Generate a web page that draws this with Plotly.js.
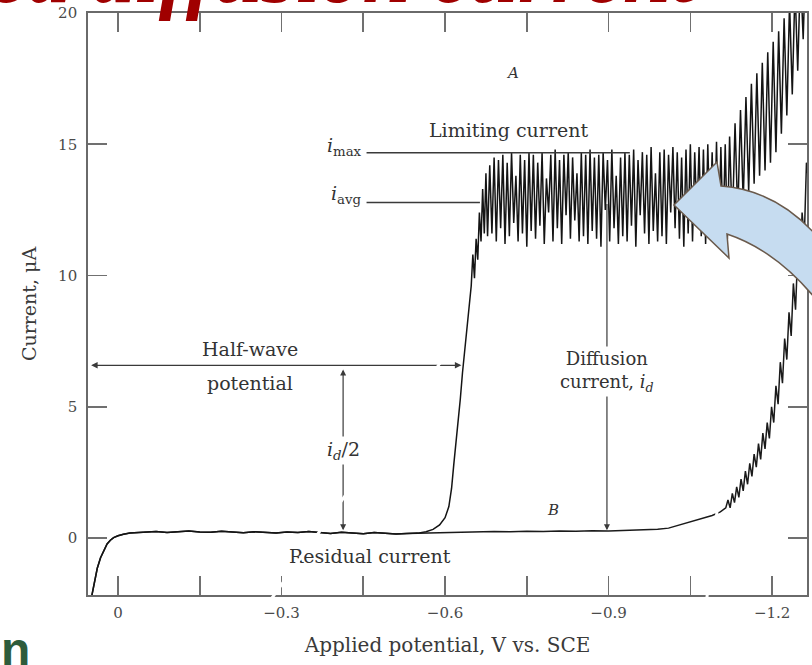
<!DOCTYPE html>
<html>
<head>
<meta charset="utf-8">
<script src="https://cdn.plot.ly/plotly-3.0.1.min.js"></script>
<style>html,body{margin:0;padding:0;background:#fff;}#chart{width:812px;height:665px;}</style>
</head>
<body>
<div id="chart"></div>
<script>
// ---- Curve B: residual current (applied potential V vs SCE, current µA)
const resV = [0.050, 0.044, 0.038, 0.032, 0.026, 0.020, 0.014, 0.008, 0.000,
  -0.010, -0.022, -0.035, -0.050,
  -0.070, -0.090, -0.110, -0.130, -0.150, -0.170, -0.190, -0.210, -0.230, -0.250,
  -0.270, -0.290, -0.310, -0.330, -0.350, -0.370, -0.390, -0.410, -0.430, -0.450,
  -0.470, -0.490, -0.510, -0.530, -0.550,
  -0.570, -0.600, -0.630, -0.660, -0.690, -0.720, -0.750, -0.780, -0.810, -0.840,
  -0.870, -0.900, -0.930, -0.960, -0.990, -1.010, -1.030, -1.050, -1.070, -1.090,
  -1.105, -1.115,
  -1.119, -1.123, -1.127, -1.131, -1.135, -1.139, -1.143, -1.147, -1.151, -1.155,
  -1.159, -1.163, -1.167, -1.171, -1.175, -1.179, -1.183, -1.187, -1.191, -1.195,
  -1.199, -1.203, -1.207, -1.211, -1.215, -1.219, -1.223, -1.227, -1.231, -1.235,
  -1.239, -1.243, -1.247, -1.251, -1.255, -1.259, -1.263, -1.267, -1.271];
const resI = [-2.4, -1.7, -1.15, -0.75, -0.45, -0.22, -0.08, 0.02, 0.09,
  0.15, 0.19, 0.21, 0.22,
  0.25, 0.21, 0.24, 0.27, 0.23, 0.22, 0.26, 0.22, 0.20, 0.24,
  0.22, 0.19, 0.23, 0.21, 0.25, 0.21, 0.18, 0.22, 0.20, 0.17,
  0.21, 0.19, 0.16, 0.18, 0.19,
  0.20, 0.22, 0.24, 0.23, 0.25, 0.24, 0.26, 0.25, 0.27, 0.26,
  0.28, 0.27, 0.29, 0.30, 0.34, 0.38, 0.50, 0.62, 0.75, 0.86,
  1.00, 1.15,
  1.45, 1.15, 1.70, 1.35, 1.95, 1.55, 2.25, 1.80, 2.55, 2.05,
  2.85, 2.35, 3.20, 2.70, 3.60, 3.00, 4.00, 3.40, 4.40, 3.80,
  5.00, 4.40, 5.80, 5.10, 6.70, 5.90, 7.60, 6.80, 8.60, 7.70,
  9.70, 8.70, 10.90, 9.90, 12.40, 11.40, 14.30, 13.60, 16.20];
// number of residual points shared by curve A before the wave departs
const sharedCount = 38;

// ---- Curve A: polarographic wave (after it leaves the residual line)
const waveV = [-0.565, -0.578, -0.590, -0.600, -0.607, -0.612, -0.616, -0.620, -0.624, -0.628,
  -0.632, -0.636, -0.640, -0.644, -0.648, -0.651, -0.654, -0.657, -0.660, -0.663,
  -0.666, -0.669, -0.672, -0.675, -0.678,
  -0.682, -0.686, -0.690, -0.694, -0.698, -0.702, -0.706, -0.710, -0.714, -0.718,
  -0.722, -0.726, -0.730, -0.734, -0.738, -0.742, -0.746, -0.750, -0.754, -0.758,
  -0.762, -0.766, -0.770, -0.774, -0.778, -0.782, -0.786, -0.790, -0.794, -0.798,
  -0.802, -0.806, -0.810, -0.814, -0.818, -0.822, -0.826, -0.830, -0.834, -0.838,
  -0.842, -0.846, -0.850, -0.854, -0.858, -0.862, -0.866, -0.870, -0.874, -0.878,
  -0.882, -0.886, -0.890, -0.894, -0.898, -0.902, -0.906, -0.910, -0.914, -0.918,
  -0.922, -0.926, -0.930, -0.934, -0.938, -0.942, -0.946, -0.950, -0.954, -0.958,
  -0.962, -0.966, -0.970, -0.974, -0.978, -0.982, -0.986, -0.990, -0.994, -0.998,
  -1.002, -1.006, -1.010, -1.014, -1.018, -1.022, -1.026, -1.030, -1.034, -1.038,
  -1.042, -1.046, -1.050, -1.054, -1.058, -1.062, -1.066, -1.070, -1.074, -1.078,
  -1.082, -1.086, -1.090, -1.094, -1.098, -1.102, -1.106, -1.110, -1.114, -1.118,
  -1.122, -1.127, -1.132, -1.137, -1.142, -1.147, -1.152, -1.157, -1.162, -1.167,
  -1.172, -1.177, -1.182, -1.187, -1.192, -1.197, -1.202, -1.207, -1.212, -1.217,
  -1.222, -1.227, -1.232, -1.237, -1.242, -1.247, -1.252, -1.257, -1.262];
const waveI = [0.24, 0.33, 0.50, 0.78, 1.2, 1.9, 2.8, 3.6, 4.4, 5.3,
  6.3, 7.2, 8.0, 8.8, 9.6, 10.8, 9.9, 11.4, 10.6, 12.4,
  11.3, 13.3, 11.6, 13.9, 11.5,
  14.2, 11.6, 14.5, 11.3, 14.4, 11.8, 14.6, 11.2, 14.3, 11.5,
  14.7, 12.0, 13.8, 11.3, 14.6, 11.6, 14.4, 11.1, 14.7, 11.7,
  14.6, 11.4, 14.3, 11.9, 14.7, 11.2, 13.7, 12.4, 14.6, 11.3,
  14.8, 11.8, 14.4, 11.2, 14.6, 12.3, 14.7, 11.4, 14.5, 12.1,
  13.9, 11.3, 14.7, 11.5, 14.6, 11.2, 14.8, 11.7, 14.5, 11.4,
  14.6, 11.1, 14.7, 12.5, 14.4, 11.3, 14.8, 11.8, 13.8, 11.2,
  14.5, 11.5, 14.7, 11.3, 14.6, 11.9, 14.8, 11.1, 14.4, 12.3,
  14.7, 11.6, 14.6, 11.2, 14.9, 11.7, 13.9, 11.3, 14.7, 11.5,
  14.8, 11.2, 14.6, 12.4, 14.9, 11.8, 14.7, 11.4, 14.5, 11.1,
  14.8, 11.6, 15.0, 11.3, 14.7, 12.2, 14.9, 11.5, 14.8, 11.2,
  15.0, 11.7, 14.7, 11.4, 15.1, 11.3, 14.9, 11.6, 15.0, 11.4,
  15.3, 11.9, 15.8, 12.3, 16.3, 12.8, 16.8, 13.2, 17.3, 13.5,
  17.7, 13.8, 18.1, 14.0, 18.5, 14.3, 18.9, 14.7, 19.3, 15.4,
  19.8, 16.1, 20.4, 16.9, 21.0, 17.8, 21.6, 19.0, 22.5];

// ---- Axis ticks
const xTickVals = [0, -0.15, -0.3, -0.45, -0.6, -0.75, -0.9, -1.05, -1.2];
const xTickText = ['0', '', '\u22120.3', '', '\u22120.6', '', '\u22120.9', '', '\u22121.2'];
const yTickVals = [0, 5, 10, 15, 20];
const yTickText = ['0', '5', '10', '15', '20'];

// ---- Reference levels
const iMax = 14.68, iAvg = 12.78, halfI = 6.58, halfV = -0.630;
const idHalfV = -0.413, diffV = -0.897, resLevel = 0.30;

const curveA_V = resV.slice(0, sharedCount).concat(waveV);
const curveA_I = resI.slice(0, sharedCount).concat(waveI);

const serif = 'DejaVu Serif, Liberation Serif, serif';
const ink = '#333333';

const traces = [
  {x: resV, y: resI, type: 'scatter', mode: 'lines', name: 'B',
   line: {color: '#1a1a1a', width: 1.5}, hoverinfo: 'skip'},
  {x: curveA_V, y: curveA_I, type: 'scatter', mode: 'lines', name: 'A',
   line: {color: '#141414', width: 1.5}, hoverinfo: 'skip'}
];

// pixel -> paper helper for slide decorations
const L = 88, R = 807, T = 13, Bm = 595;
function px(x) { return (x - L) / (R - L); }
function py(y) { return (Bm - y) / (Bm - T); }
function P(x, y) { return px(x).toFixed(4) + ',' + py(y).toFixed(4); }

const arrowPath = 'M' + P(674, 205) + ' L' + P(717, 162) + ' L' + P(721, 186) +
  ' Q' + P(775, 190) + ' ' + P(815, 234) + ' L' + P(815, 298) +
  ' Q' + P(775, 250) + ' ' + P(727, 234) + ' L' + P(729, 258) + ' Z';

const shapes = [
  {type: 'line', xref: 'x', yref: 'y', x0: -0.456, x1: -0.939, y0: iMax, y1: iMax,
   line: {color: '#3a3a3a', width: 1.6}, layer: 'above'},
  {type: 'line', xref: 'x', yref: 'y', x0: -0.456, x1: -0.664, y0: iAvg, y1: iAvg,
   line: {color: '#3a3a3a', width: 1.6}, layer: 'above'},
  {type: 'path', xref: 'paper', yref: 'paper', path: arrowPath,
   fillcolor: '#c6dcf0', line: {color: '#6a5a4c', width: 1.5}, layer: 'above'}
];

const tf = (size, extra) => Object.assign({family: serif, size: size, color: ink}, extra || {});

const annotations = [
  {x: -0.723, y: 17.72, xref: 'x', yref: 'y', text: '<i>A</i>', showarrow: false, font: tf(15)},
  {x: -0.7156, y: 15.55, xref: 'x', yref: 'y', text: 'Limiting current', showarrow: false, font: tf(19)},
  {x: -0.452, y: iMax + 0.25, xref: 'x', yref: 'y', xanchor: 'right', text: '<i>i</i><sub>max</sub>', showarrow: false, font: tf(19)},
  {x: -0.452, y: iAvg + 0.3, xref: 'x', yref: 'y', xanchor: 'right', text: '<i>i</i><sub>avg</sub>', showarrow: false, font: tf(19)},
  {x: -0.242, y: 7.2, xref: 'x', yref: 'y', text: 'Half-wave', showarrow: false, font: tf(19)},
  {x: -0.242, y: 5.92, xref: 'x', yref: 'y', text: 'potential', showarrow: false, font: tf(19)},
  // half-wave potential double arrow
  {x: halfV, y: halfI, ax: 0.052, ay: halfI, xref: 'x', yref: 'y', axref: 'x', ayref: 'y',
   text: '', showarrow: true, arrowhead: 2, startarrowhead: 2, arrowside: 'end+start',
   arrowsize: 1, arrowwidth: 1.3, arrowcolor: '#3a3a3a', standoff: 0, startstandoff: 0},
  // i_d/2 double arrow
  {x: idHalfV, y: resLevel, ax: idHalfV, ay: halfI - 0.1, xref: 'x', yref: 'y', axref: 'x', ayref: 'y',
   text: '', showarrow: true, arrowhead: 2, startarrowhead: 2, arrowside: 'end+start',
   arrowsize: 1, arrowwidth: 1.2, arrowcolor: '#3a3a3a', standoff: 0, startstandoff: 0},
  {x: idHalfV, y: 3.35, xref: 'x', yref: 'y', text: '<i>i<sub>d</sub></i>/2', showarrow: false,
   bgcolor: '#ffffff', font: tf(19)},
  // diffusion current arrow
  {x: diffV, y: resLevel, ax: diffV, ay: iAvg, xref: 'x', yref: 'y', axref: 'x', ayref: 'y',
   text: '', showarrow: true, arrowhead: 2, arrowsize: 1, arrowwidth: 1.2,
   arrowcolor: '#3a3a3a', standoff: 0},
  {x: diffV, y: 6.35, xref: 'x', yref: 'y', text: 'Diffusion<br>current, <i>i<sub>d</sub></i>',
   showarrow: false, bgcolor: '#ffffff', font: tf(18)},
  {x: -0.798, y: 1.06, xref: 'x', yref: 'y', text: '<i>B</i>', showarrow: false, font: tf(15)},
  {x: -0.462, y: -0.7, xref: 'x', yref: 'y', text: 'Residual current', showarrow: false, font: tf(19)},
  // slide decorations
  {xref: 'paper', yref: 'paper', x: px(700), y: py(23), xanchor: 'right', yanchor: 'bottom',
   text: '<b><i>Limited diffusion current</i></b>', showarrow: false,
   font: {family: 'Liberation Serif, serif', size: 86, color: '#a00000'}},
  {xref: 'paper', yref: 'paper', x: px(-1), y: py(678), xanchor: 'left', yanchor: 'bottom',
   text: '<b>n</b>', showarrow: false,
   font: {family: 'Liberation Sans, sans-serif', size: 48, color: '#2d5c3b'}},
  {xref: 'paper', yref: 'paper', x: px(458), y: py(338), ax: 224 - 458, ay: 665 - 338,
   text: '', showarrow: true, arrowhead: 0, arrowwidth: 3, arrowcolor: '#ffffff', standoff: 0},
  {xref: 'paper', yref: 'paper', x: px(720), y: py(486), ax: 699 - 720, ay: 665 - 486,
   text: '', showarrow: true, arrowhead: 0, arrowwidth: 3, arrowcolor: '#ffffff', standoff: 0}
];

const axisCommon = {
  showgrid: false, zeroline: false, showline: true, linecolor: '#6a6a6a', linewidth: 1.8,
  mirror: 'ticks', ticks: 'inside', ticklen: 19, tickwidth: 1.6, tickcolor: '#707070',
  tickfont: {family: serif, size: 15, color: '#4a4a4a'}
};

const layout = {
  width: 812, height: 665,
  margin: {l: L, r: 812 - R, t: T, b: 665 - Bm},
  paper_bgcolor: '#ffffff', plot_bgcolor: '#ffffff',
  showlegend: false,
  xaxis: Object.assign({}, axisCommon, {
    range: [0.055, -1.264], tickmode: 'array', tickvals: xTickVals, ticktext: xTickText,
    ticklabelstandoff: 3,
    title: {text: 'Applied potential, V vs. SCE', font: {family: serif, size: 20, color: '#3a3a3a'}, standoff: 17}
  }),
  yaxis: Object.assign({}, axisCommon, {
    range: [-2.167, 20], tickmode: 'array', tickvals: yTickVals, ticktext: yTickText,
    ticklabelstandoff: 6,
    title: {text: 'Current, \u03bcA', font: {family: serif, size: 19, color: '#3a3a3a'}, standoff: 16}
  }),
  shapes: shapes,
  annotations: annotations
};

Plotly.newPlot('chart', traces, layout, {staticPlot: true, displayModeBar: false});
</script>
</body>
</html>
